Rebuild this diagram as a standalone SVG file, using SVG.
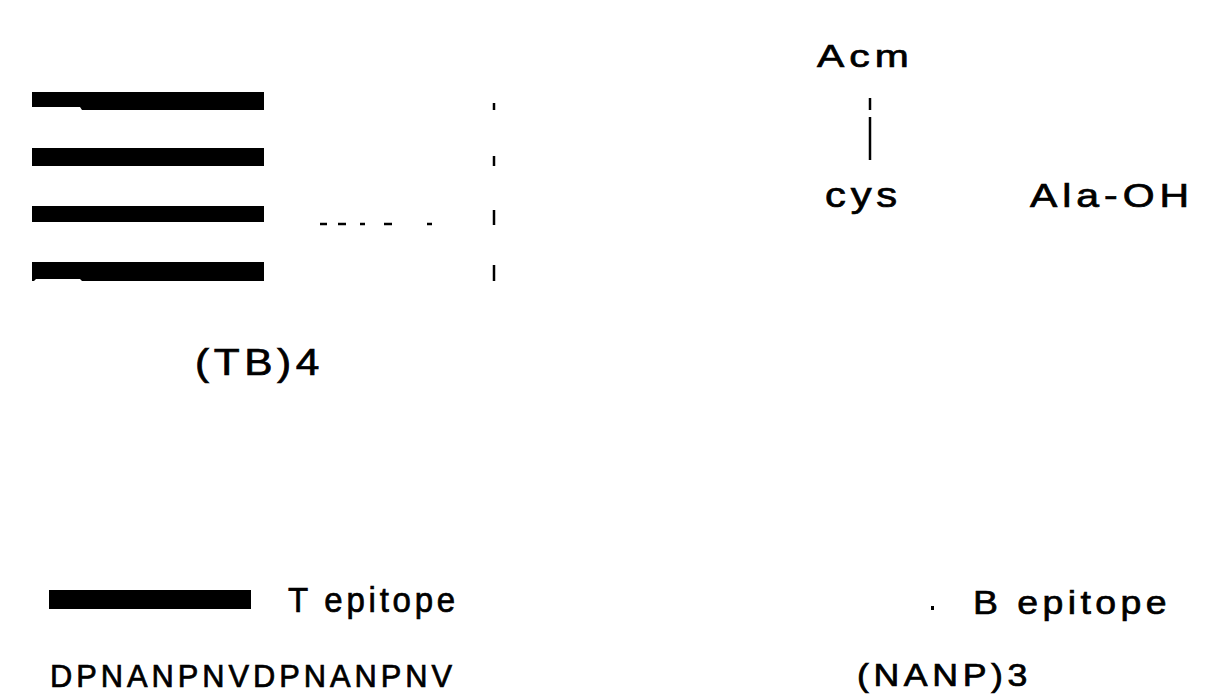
<svg xmlns="http://www.w3.org/2000/svg" width="1230" height="697" viewBox="0 0 1230 697">
  <style>
    .lbl { font-family: "Liberation Sans", Arial, sans-serif; fill: #000; stroke: #000; stroke-width: 0.7; letter-spacing: 4px; }
    .bar { fill: #000; }
    .tick { stroke: #000; stroke-width: 2.5; fill: none; }
    .dash { stroke: #000; stroke-width: 2.5; fill: none; }
  </style>
  <rect width="1230" height="697" fill="#fff"/>

  <!-- (TB)4 construct: four T/B chains -->
  <g id="chains">
    <path class="bar" d="M32,92 H264 V110 H82 L80,107 H32 Z"/>
    <rect class="bar" x="32" y="148" width="232" height="18"/>
    <rect class="bar" x="32" y="206" width="232" height="16"/>
    <path class="bar" d="M32,262 H264 V281 H82 L80,279 H36 L34,281 H32 Z"/>
  </g>

  <!-- connectors: dashed link and branch ticks -->
  <g id="connectors">
    <line class="dash" x1="320" y1="224" x2="327" y2="224"/>
    <line class="dash" x1="338" y1="224" x2="346" y2="224"/>
    <line class="dash" x1="360" y1="224" x2="365" y2="224"/>
    <line class="dash" x1="384" y1="224" x2="392" y2="224"/>
    <line class="dash" x1="427" y1="224" x2="432" y2="224"/>
    <line class="tick" x1="494" y1="103" x2="494" y2="110"/>
    <line class="tick" x1="494" y1="156" x2="494" y2="166"/>
    <line class="tick" x1="494" y1="210" x2="494" y2="225"/>
    <line class="tick" x1="494" y1="265" x2="494" y2="281"/>
    <line class="tick" x1="870" y1="98" x2="870" y2="110"/>
    <line class="tick" x1="870" y1="117" x2="870" y2="160"/>
  </g>

  <g id="label-tb4">
    <text class="lbl" x="195" y="375" font-size="37" textLength="129" lengthAdjust="spacingAndGlyphs">(TB)4</text>
  </g>

  <g id="node-acm">
    <text class="lbl" x="817" y="67" font-size="32" textLength="97" lengthAdjust="spacingAndGlyphs">Acm</text>
  </g>
  <g id="node-cys">
    <text class="lbl" x="825" y="207" font-size="35" textLength="77" lengthAdjust="spacingAndGlyphs">cys</text>
  </g>
  <g id="node-ala">
    <text class="lbl" x="1030" y="207" font-size="33" textLength="164" lengthAdjust="spacingAndGlyphs">Ala-OH</text>
  </g>

  <!-- legend -->
  <g id="legend-t">
    <rect class="bar" x="49" y="590" width="202" height="19"/>
    <text class="lbl" x="288" y="612" font-size="35" textLength="171" lengthAdjust="spacingAndGlyphs">T epitope</text>
    <text class="lbl" x="50" y="687" font-size="31" textLength="406" lengthAdjust="spacingAndGlyphs">DPNANPNVDPNANPNV</text>
  </g>
  <g id="legend-b">
    <rect class="bar" x="931" y="606" width="3" height="4"/>
    <text class="lbl" x="973" y="614" font-size="34" textLength="198" lengthAdjust="spacingAndGlyphs">B epitope</text>
    <text class="lbl" x="857" y="686" font-size="31" textLength="175" lengthAdjust="spacingAndGlyphs">(NANP)3</text>
  </g>
</svg>
